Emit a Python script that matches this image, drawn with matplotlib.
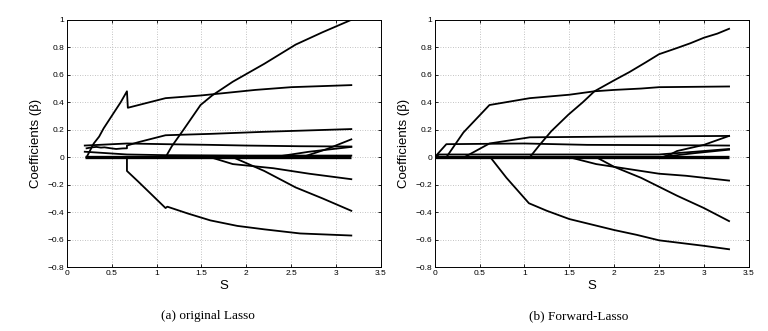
import matplotlib
matplotlib.use("Agg")
import matplotlib.pyplot as plt

# ---------------- data: (a) original Lasso ----------------
a_paths = {
    "grow_to_1": ([1.10, 1.17, 1.30, 1.49, 1.62, 1.85, 2.20, 2.55, 2.85, 3.17],
                  [0.00, 0.08, 0.20, 0.38, 0.45, 0.55, 0.68, 0.82, 0.91, 1.00]),
    "peak_048": ([0.22, 0.30, 0.36, 0.41, 0.50, 0.60, 0.67, 0.68, 1.10, 1.50, 1.80, 2.10, 2.50, 3.17],
                 [0.00, 0.10, 0.15, 0.21, 0.30, 0.40, 0.48, 0.36, 0.43, 0.45, 0.47, 0.49, 0.51, 0.525]),
    "box_low": ([0.22, 0.28, 0.33, 0.38, 0.42, 0.48, 0.55, 0.62, 0.67, 0.67, 0.80, 1.10, 1.60, 2.20, 3.17],
                [0.065, 0.072, 0.075, 0.070, 0.072, 0.066, 0.060, 0.064, 0.065, 0.085, 0.11, 0.16, 0.17, 0.185, 0.205]),
    "box_top": ([0.20, 0.67, 1.10, 1.60, 2.00, 2.60, 3.17],
                [0.085, 0.10, 0.095, 0.09, 0.085, 0.08, 0.078]),
    "small_pos": ([0.20, 0.67, 1.10, 2.00, 3.17],
                  [0.040, 0.020, 0.015, 0.012, 0.012]),
    "neg_big": ([0.67, 0.67, 0.80, 1.10, 1.12, 1.35, 1.60, 1.90, 2.20, 2.60, 3.17],
                [0.00, -0.10, -0.18, -0.37, -0.36, -0.41, -0.46, -0.50, -0.525, -0.555, -0.57]),
    "neg_small": ([1.60, 1.85, 2.30, 2.70, 3.17],
                  [0.00, -0.05, -0.08, -0.12, -0.16]),
    "neg_mid": ([1.85, 2.20, 2.55, 2.85, 3.17],
                [0.00, -0.10, -0.22, -0.30, -0.39]),
    "late_pos1": ([2.30, 2.70, 3.17],
                  [0.00, 0.04, 0.075]),
    "late_pos2": ([2.62, 2.90, 3.17],
                  [0.00, 0.06, 0.13]),
}
a_zero_x = [0.20, 3.17]
a_zero_y = [0.0, 0.0]

# ---------------- data: (b) Forward-Lasso ----------------
b_paths = {
    "grow_to_094": ([0.00, 1.06, 1.17, 1.30, 1.49, 1.65, 1.78, 2.00, 2.17, 2.35, 2.50, 2.70, 2.85, 3.00, 3.15, 3.28],
                    [0.00, 0.00, 0.09, 0.19, 0.31, 0.40, 0.48, 0.56, 0.62, 0.69, 0.75, 0.795, 0.83, 0.87, 0.90, 0.935]),
    "to_051": ([0.00, 0.13, 0.32, 0.61, 1.06, 1.50, 1.78, 2.00, 2.30, 2.50, 3.28],
               [0.00, 0.00, 0.18, 0.38, 0.43, 0.455, 0.48, 0.49, 0.50, 0.51, 0.515]),
    "to_015": ([0.00, 0.33, 0.61, 1.06, 2.00, 3.28],
               [0.00, 0.00, 0.10, 0.145, 0.15, 0.155]),
    "to_008": ([0.00, 0.13, 1.00, 1.70, 2.50, 3.28],
               [0.00, 0.095, 0.10, 0.09, 0.088, 0.085]),
    "flat_002": ([0.00, 0.05, 1.50, 2.50, 2.90, 3.28],
                 [0.00, 0.02, 0.02, 0.02, 0.04, 0.06]),
    "late_up1": ([2.54, 2.64, 2.70, 3.00, 3.28],
                 [0.00, 0.025, 0.045, 0.09, 0.155]),
    "late_up2": ([2.50, 2.90, 3.28],
                 [0.00, 0.03, 0.055]),
    "neg_small": ([1.50, 1.80, 2.10, 2.50, 2.80, 3.28],
                  [0.00, -0.05, -0.08, -0.12, -0.135, -0.17]),
    "neg_mid": ([1.80, 2.00, 2.30, 2.70, 3.00, 3.28],
                [0.00, -0.07, -0.15, -0.28, -0.37, -0.465]),
    "neg_big": ([0.00, 0.62, 0.80, 1.05, 1.25, 1.50, 1.75, 2.00, 2.25, 2.50, 2.75, 3.00, 3.28],
                [0.00, 0.00, -0.15, -0.335, -0.39, -0.45, -0.49, -0.53, -0.565, -0.605, -0.625, -0.645, -0.67]),
}
b_zero_x = [0.00, 3.28]
b_zero_y = [0.0, 0.0]

x_ticks = [0, 0.5, 1, 1.5, 2, 2.5, 3, 3.5]
x_ticklabels = ["0", "0.5", "1", "1.5", "2", "2.5", "3", "3.5"]
y_ticks = [-0.8, -0.6, -0.4, -0.2, 0, 0.2, 0.4, 0.6, 0.8, 1]
y_ticklabels = ["\u22120.8", "\u22120.6", "\u22120.4", "\u22120.2", "0", "0.2", "0.4", "0.6", "0.8", "1"]
captions = ["(a) original Lasso", "(b) Forward-Lasso"]

plt.rcParams["font.family"] = ["Liberation Sans", "DejaVu Sans"]

fig = plt.figure(figsize=(7.68, 3.31), dpi=100)
ax_a = fig.add_axes([0.087, 0.193, 0.409, 0.747])
ax_b = fig.add_axes([0.566, 0.193, 0.409, 0.747])

def style(ax):
    ax.set_xlim(0, 3.5)
    ax.set_ylim(-0.8, 1.0)
    ax.set_xticks(x_ticks)
    ax.set_xticklabels(x_ticklabels)
    ax.set_yticks(y_ticks)
    ax.set_yticklabels(y_ticklabels)
    ax.tick_params(direction="in", length=2.5, width=0.6, labelsize=6,
                   top=True, right=True, pad=2)
    ax.grid(True, linestyle=(0, (1, 2)), color="#b0b0b0", linewidth=0.6)
    ax.set_axisbelow(True)
    for s in ax.spines.values():
        s.set_linewidth(0.7)
    ax.set_xlabel("S", fontsize=9.5, labelpad=2)
    ax.set_ylabel("Coefficients (\u03b2)", fontsize=9.5, labelpad=4)

for ax, paths, zx, zy in [(ax_a, a_paths, a_zero_x, a_zero_y),
                          (ax_b, b_paths, b_zero_x, b_zero_y)]:
    style(ax)
    ax.plot(zx, zy, color="black", linewidth=2.4, solid_capstyle="butt")
    for name, (xs, ys) in paths.items():
        ax.plot(xs, ys, color="black", linewidth=1.3)

fig.text(0.271, 0.045, captions[0], ha="center", va="center",
         fontsize=9.5, family=["Liberation Serif", "DejaVu Serif"])
fig.text(0.753, 0.045, captions[1], ha="center", va="center",
         fontsize=9.5, family=["Liberation Serif", "DejaVu Serif"])

fig.savefig("out.png", dpi=100)
